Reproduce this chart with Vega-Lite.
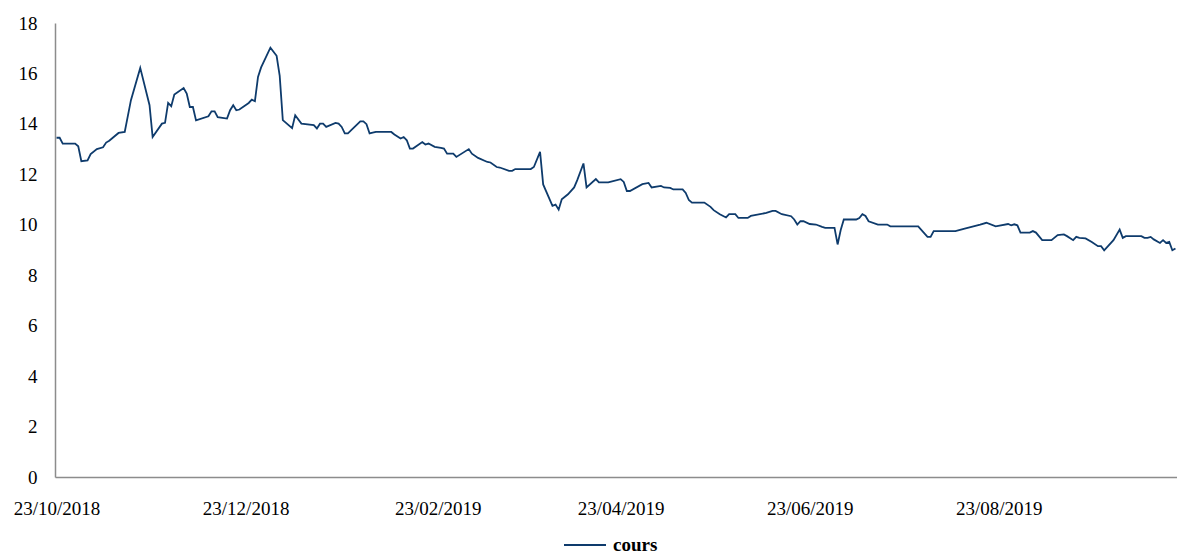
{
  "$schema": "https://vega.github.io/schema/vega-lite/v6.json",
  "width": 1122,
  "height": 454,
  "autosize": {"type": "none"},
  "padding": {"left": 55, "top": 23, "right": 0, "bottom": 79},
  "background": "white",
  "config": {
    "view": {"stroke": null},
    "font": "Liberation Serif"
  },
  "data": {
    "values": [
      {"date": "2018-10-23", "cours": 13.45, "serie": "cours"},
      {"date": "2018-10-24", "cours": 13.45, "serie": "cours"},
      {"date": "2018-10-25", "cours": 13.22, "serie": "cours"},
      {"date": "2018-10-29", "cours": 13.22, "serie": "cours"},
      {"date": "2018-10-30", "cours": 13.11, "serie": "cours"},
      {"date": "2018-10-31", "cours": 12.52, "serie": "cours"},
      {"date": "2018-11-02", "cours": 12.55, "serie": "cours"},
      {"date": "2018-11-03", "cours": 12.8, "serie": "cours"},
      {"date": "2018-11-05", "cours": 13.0, "serie": "cours"},
      {"date": "2018-11-07", "cours": 13.07, "serie": "cours"},
      {"date": "2018-11-08", "cours": 13.26, "serie": "cours"},
      {"date": "2018-11-09", "cours": 13.33, "serie": "cours"},
      {"date": "2018-11-12", "cours": 13.64, "serie": "cours"},
      {"date": "2018-11-14", "cours": 13.68, "serie": "cours"},
      {"date": "2018-11-16", "cours": 14.94, "serie": "cours"},
      {"date": "2018-11-19", "cours": 16.22, "serie": "cours"},
      {"date": "2018-11-22", "cours": 14.74, "serie": "cours"},
      {"date": "2018-11-23", "cours": 13.48, "serie": "cours"},
      {"date": "2018-11-26", "cours": 14.01, "serie": "cours"},
      {"date": "2018-11-27", "cours": 14.04, "serie": "cours"},
      {"date": "2018-11-28", "cours": 14.83, "serie": "cours"},
      {"date": "2018-11-29", "cours": 14.70, "serie": "cours"},
      {"date": "2018-11-30", "cours": 15.16, "serie": "cours"},
      {"date": "2018-12-03", "cours": 15.42, "serie": "cours"},
      {"date": "2018-12-04", "cours": 15.20, "serie": "cours"},
      {"date": "2018-12-05", "cours": 14.67, "serie": "cours"},
      {"date": "2018-12-06", "cours": 14.67, "serie": "cours"},
      {"date": "2018-12-07", "cours": 14.14, "serie": "cours"},
      {"date": "2018-12-11", "cours": 14.30, "serie": "cours"},
      {"date": "2018-12-12", "cours": 14.50, "serie": "cours"},
      {"date": "2018-12-13", "cours": 14.50, "serie": "cours"},
      {"date": "2018-12-14", "cours": 14.27, "serie": "cours"},
      {"date": "2018-12-17", "cours": 14.21, "serie": "cours"},
      {"date": "2018-12-18", "cours": 14.54, "serie": "cours"},
      {"date": "2018-12-19", "cours": 14.74, "serie": "cours"},
      {"date": "2018-12-20", "cours": 14.54, "serie": "cours"},
      {"date": "2018-12-21", "cours": 14.57, "serie": "cours"},
      {"date": "2018-12-24", "cours": 14.83, "serie": "cours"},
      {"date": "2018-12-25", "cours": 14.96, "serie": "cours"},
      {"date": "2018-12-26", "cours": 14.90, "serie": "cours"},
      {"date": "2018-12-27", "cours": 15.86, "serie": "cours"},
      {"date": "2018-12-28", "cours": 16.24, "serie": "cours"},
      {"date": "2018-12-31", "cours": 17.02, "serie": "cours"},
      {"date": "2019-01-02", "cours": 16.70, "serie": "cours"},
      {"date": "2019-01-03", "cours": 15.90, "serie": "cours"},
      {"date": "2019-01-04", "cours": 14.15, "serie": "cours"},
      {"date": "2019-01-07", "cours": 13.83, "serie": "cours"},
      {"date": "2019-01-08", "cours": 14.34, "serie": "cours"},
      {"date": "2019-01-10", "cours": 14.01, "serie": "cours"},
      {"date": "2019-01-14", "cours": 13.95, "serie": "cours"},
      {"date": "2019-01-15", "cours": 13.82, "serie": "cours"},
      {"date": "2019-01-16", "cours": 14.01, "serie": "cours"},
      {"date": "2019-01-17", "cours": 14.01, "serie": "cours"},
      {"date": "2019-01-18", "cours": 13.88, "serie": "cours"},
      {"date": "2019-01-21", "cours": 14.04, "serie": "cours"},
      {"date": "2019-01-22", "cours": 14.01, "serie": "cours"},
      {"date": "2019-01-23", "cours": 13.88, "serie": "cours"},
      {"date": "2019-01-24", "cours": 13.62, "serie": "cours"},
      {"date": "2019-01-25", "cours": 13.62, "serie": "cours"},
      {"date": "2019-01-29", "cours": 14.10, "serie": "cours"},
      {"date": "2019-01-30", "cours": 14.10, "serie": "cours"},
      {"date": "2019-01-31", "cours": 13.99, "serie": "cours"},
      {"date": "2019-02-01", "cours": 13.62, "serie": "cours"},
      {"date": "2019-02-03", "cours": 13.68, "serie": "cours"},
      {"date": "2019-02-08", "cours": 13.68, "serie": "cours"},
      {"date": "2019-02-09", "cours": 13.58, "serie": "cours"},
      {"date": "2019-02-11", "cours": 13.42, "serie": "cours"},
      {"date": "2019-02-12", "cours": 13.48, "serie": "cours"},
      {"date": "2019-02-13", "cours": 13.35, "serie": "cours"},
      {"date": "2019-02-14", "cours": 13.02, "serie": "cours"},
      {"date": "2019-02-15", "cours": 13.02, "serie": "cours"},
      {"date": "2019-02-18", "cours": 13.28, "serie": "cours"},
      {"date": "2019-02-19", "cours": 13.18, "serie": "cours"},
      {"date": "2019-02-20", "cours": 13.22, "serie": "cours"},
      {"date": "2019-02-22", "cours": 13.09, "serie": "cours"},
      {"date": "2019-02-24", "cours": 13.05, "serie": "cours"},
      {"date": "2019-02-25", "cours": 13.02, "serie": "cours"},
      {"date": "2019-02-26", "cours": 12.82, "serie": "cours"},
      {"date": "2019-02-28", "cours": 12.82, "serie": "cours"},
      {"date": "2019-03-01", "cours": 12.69, "serie": "cours"},
      {"date": "2019-03-05", "cours": 13.00, "serie": "cours"},
      {"date": "2019-03-06", "cours": 12.82, "serie": "cours"},
      {"date": "2019-03-08", "cours": 12.65, "serie": "cours"},
      {"date": "2019-03-11", "cours": 12.49, "serie": "cours"},
      {"date": "2019-03-12", "cours": 12.47, "serie": "cours"},
      {"date": "2019-03-14", "cours": 12.29, "serie": "cours"},
      {"date": "2019-03-15", "cours": 12.27, "serie": "cours"},
      {"date": "2019-03-18", "cours": 12.14, "serie": "cours"},
      {"date": "2019-03-19", "cours": 12.14, "serie": "cours"},
      {"date": "2019-03-20", "cours": 12.21, "serie": "cours"},
      {"date": "2019-03-25", "cours": 12.21, "serie": "cours"},
      {"date": "2019-03-26", "cours": 12.29, "serie": "cours"},
      {"date": "2019-03-28", "cours": 12.89, "serie": "cours"},
      {"date": "2019-03-29", "cours": 11.60, "serie": "cours"},
      {"date": "2019-04-01", "cours": 10.75, "serie": "cours"},
      {"date": "2019-04-02", "cours": 10.80, "serie": "cours"},
      {"date": "2019-04-03", "cours": 10.60, "serie": "cours"},
      {"date": "2019-04-04", "cours": 11.01, "serie": "cours"},
      {"date": "2019-04-06", "cours": 11.21, "serie": "cours"},
      {"date": "2019-04-08", "cours": 11.48, "serie": "cours"},
      {"date": "2019-04-09", "cours": 11.77, "serie": "cours"},
      {"date": "2019-04-11", "cours": 12.43, "serie": "cours"},
      {"date": "2019-04-12", "cours": 11.48, "serie": "cours"},
      {"date": "2019-04-15", "cours": 11.81, "serie": "cours"},
      {"date": "2019-04-16", "cours": 11.68, "serie": "cours"},
      {"date": "2019-04-19", "cours": 11.68, "serie": "cours"},
      {"date": "2019-04-23", "cours": 11.81, "serie": "cours"},
      {"date": "2019-04-24", "cours": 11.70, "serie": "cours"},
      {"date": "2019-04-25", "cours": 11.34, "serie": "cours"},
      {"date": "2019-04-26", "cours": 11.34, "serie": "cours"},
      {"date": "2019-04-30", "cours": 11.61, "serie": "cours"},
      {"date": "2019-05-02", "cours": 11.66, "serie": "cours"},
      {"date": "2019-05-03", "cours": 11.48, "serie": "cours"},
      {"date": "2019-05-06", "cours": 11.54, "serie": "cours"},
      {"date": "2019-05-07", "cours": 11.48, "serie": "cours"},
      {"date": "2019-05-09", "cours": 11.46, "serie": "cours"},
      {"date": "2019-05-10", "cours": 11.40, "serie": "cours"},
      {"date": "2019-05-13", "cours": 11.40, "serie": "cours"},
      {"date": "2019-05-14", "cours": 11.26, "serie": "cours"},
      {"date": "2019-05-15", "cours": 10.98, "serie": "cours"},
      {"date": "2019-05-16", "cours": 10.88, "serie": "cours"},
      {"date": "2019-05-20", "cours": 10.88, "serie": "cours"},
      {"date": "2019-05-22", "cours": 10.71, "serie": "cours"},
      {"date": "2019-05-23", "cours": 10.58, "serie": "cours"},
      {"date": "2019-05-25", "cours": 10.42, "serie": "cours"},
      {"date": "2019-05-27", "cours": 10.29, "serie": "cours"},
      {"date": "2019-05-28", "cours": 10.42, "serie": "cours"},
      {"date": "2019-05-30", "cours": 10.42, "serie": "cours"},
      {"date": "2019-05-31", "cours": 10.27, "serie": "cours"},
      {"date": "2019-06-03", "cours": 10.27, "serie": "cours"},
      {"date": "2019-06-04", "cours": 10.35, "serie": "cours"},
      {"date": "2019-06-09", "cours": 10.47, "serie": "cours"},
      {"date": "2019-06-11", "cours": 10.55, "serie": "cours"},
      {"date": "2019-06-12", "cours": 10.55, "serie": "cours"},
      {"date": "2019-06-14", "cours": 10.42, "serie": "cours"},
      {"date": "2019-06-17", "cours": 10.34, "serie": "cours"},
      {"date": "2019-06-18", "cours": 10.21, "serie": "cours"},
      {"date": "2019-06-19", "cours": 10.01, "serie": "cours"},
      {"date": "2019-06-20", "cours": 10.14, "serie": "cours"},
      {"date": "2019-06-21", "cours": 10.14, "serie": "cours"},
      {"date": "2019-06-23", "cours": 10.03, "serie": "cours"},
      {"date": "2019-06-25", "cours": 10.01, "serie": "cours"},
      {"date": "2019-06-27", "cours": 9.92, "serie": "cours"},
      {"date": "2019-06-28", "cours": 9.88, "serie": "cours"},
      {"date": "2019-07-01", "cours": 9.88, "serie": "cours"},
      {"date": "2019-07-02", "cours": 9.22, "serie": "cours"},
      {"date": "2019-07-03", "cours": 9.79, "serie": "cours"},
      {"date": "2019-07-04", "cours": 10.21, "serie": "cours"},
      {"date": "2019-07-08", "cours": 10.21, "serie": "cours"},
      {"date": "2019-07-09", "cours": 10.27, "serie": "cours"},
      {"date": "2019-07-10", "cours": 10.42, "serie": "cours"},
      {"date": "2019-07-11", "cours": 10.35, "serie": "cours"},
      {"date": "2019-07-12", "cours": 10.14, "serie": "cours"},
      {"date": "2019-07-15", "cours": 10.01, "serie": "cours"},
      {"date": "2019-07-18", "cours": 10.01, "serie": "cours"},
      {"date": "2019-07-19", "cours": 9.94, "serie": "cours"},
      {"date": "2019-07-28", "cours": 9.94, "serie": "cours"},
      {"date": "2019-07-31", "cours": 9.52, "serie": "cours"},
      {"date": "2019-08-01", "cours": 9.52, "serie": "cours"},
      {"date": "2019-08-02", "cours": 9.75, "serie": "cours"},
      {"date": "2019-08-09", "cours": 9.75, "serie": "cours"},
      {"date": "2019-08-12", "cours": 9.85, "serie": "cours"},
      {"date": "2019-08-17", "cours": 10.01, "serie": "cours"},
      {"date": "2019-08-19", "cours": 10.08, "serie": "cours"},
      {"date": "2019-08-22", "cours": 9.94, "serie": "cours"},
      {"date": "2019-08-26", "cours": 10.03, "serie": "cours"},
      {"date": "2019-08-27", "cours": 9.98, "serie": "cours"},
      {"date": "2019-08-28", "cours": 10.02, "serie": "cours"},
      {"date": "2019-08-29", "cours": 9.98, "serie": "cours"},
      {"date": "2019-08-30", "cours": 9.69, "serie": "cours"},
      {"date": "2019-09-02", "cours": 9.69, "serie": "cours"},
      {"date": "2019-09-03", "cours": 9.75, "serie": "cours"},
      {"date": "2019-09-04", "cours": 9.69, "serie": "cours"},
      {"date": "2019-09-06", "cours": 9.39, "serie": "cours"},
      {"date": "2019-09-09", "cours": 9.39, "serie": "cours"},
      {"date": "2019-09-11", "cours": 9.59, "serie": "cours"},
      {"date": "2019-09-13", "cours": 9.62, "serie": "cours"},
      {"date": "2019-09-14", "cours": 9.55, "serie": "cours"},
      {"date": "2019-09-16", "cours": 9.39, "serie": "cours"},
      {"date": "2019-09-17", "cours": 9.52, "serie": "cours"},
      {"date": "2019-09-18", "cours": 9.48, "serie": "cours"},
      {"date": "2019-09-20", "cours": 9.46, "serie": "cours"},
      {"date": "2019-09-22", "cours": 9.32, "serie": "cours"},
      {"date": "2019-09-24", "cours": 9.15, "serie": "cours"},
      {"date": "2019-09-25", "cours": 9.15, "serie": "cours"},
      {"date": "2019-09-26", "cours": 8.99, "serie": "cours"},
      {"date": "2019-09-29", "cours": 9.39, "serie": "cours"},
      {"date": "2019-10-01", "cours": 9.81, "serie": "cours"},
      {"date": "2019-10-02", "cours": 9.48, "serie": "cours"},
      {"date": "2019-10-03", "cours": 9.55, "serie": "cours"},
      {"date": "2019-10-08", "cours": 9.55, "serie": "cours"},
      {"date": "2019-10-09", "cours": 9.48, "serie": "cours"},
      {"date": "2019-10-10", "cours": 9.48, "serie": "cours"},
      {"date": "2019-10-11", "cours": 9.52, "serie": "cours"},
      {"date": "2019-10-12", "cours": 9.42, "serie": "cours"},
      {"date": "2019-10-14", "cours": 9.28, "serie": "cours"},
      {"date": "2019-10-15", "cours": 9.39, "serie": "cours"},
      {"date": "2019-10-16", "cours": 9.28, "serie": "cours"},
      {"date": "2019-10-17", "cours": 9.32, "serie": "cours"},
      {"date": "2019-10-18", "cours": 8.99, "serie": "cours"},
      {"date": "2019-10-19", "cours": 9.06, "serie": "cours"}
    ]
  },
  "mark": {"type": "line", "strokeWidth": 1.8, "interpolate": "linear"},
  "encoding": {
    "x": {
      "field": "date",
      "type": "temporal",
      "title": null,
      "scale": {
        "type": "utc",
        "domain": [
          {"year": 2018, "month": 10, "date": 22, "hours": 12, "utc": true},
          {"year": 2019, "month": 10, "date": 19, "hours": 12, "utc": true}
        ]
      },
      "axis": {
        "values": [
          {"year": 2018, "month": 10, "date": 23, "utc": true},
          {"year": 2018, "month": 12, "date": 23, "utc": true},
          {"year": 2019, "month": 2, "date": 23, "utc": true},
          {"year": 2019, "month": 4, "date": 23, "utc": true},
          {"year": 2019, "month": 6, "date": 23, "utc": true},
          {"year": 2019, "month": 8, "date": 23, "utc": true}
        ],
        "labelExpr": "utcFormat(datum.value, '%d/%m/%Y')",
        "ticks": false,
        "grid": false,
        "domainColor": "#8c8c8c",
        "domainWidth": 1.5,
        "labelFont": "Liberation Serif",
        "labelFontSize": 19,
        "labelColor": "#000000",
        "labelPadding": 37,
        "labelBaseline": "alphabetic",
        "labelOverlap": false,
        "labelFlush": false
      }
    },
    "y": {
      "field": "cours",
      "type": "quantitative",
      "title": null,
      "scale": {"domain": [0, 18], "nice": false, "zero": true},
      "axis": {
        "values": [0, 2, 4, 6, 8, 10, 12, 14, 16, 18],
        "ticks": false,
        "grid": false,
        "domainColor": "#8c8c8c",
        "domainWidth": 1.5,
        "labelFont": "Liberation Serif",
        "labelFontSize": 19,
        "labelColor": "#000000",
        "labelPadding": 18
      }
    },
    "color": {
      "field": "serie",
      "type": "nominal",
      "scale": {"range": ["#0E3B6C"]},
      "legend": {
        "title": null,
        "orient": "none",
        "legendX": 508,
        "legendY": 500,
        "symbolType": "stroke",
        "symbolSize": 1764,
        "symbolStrokeWidth": 2,
        "labelFont": "Liberation Serif",
        "labelFontSize": 19,
        "labelFontWeight": "bold",
        "labelColor": "#000000",
        "labelOffset": 6
      }
    }
  }
}
